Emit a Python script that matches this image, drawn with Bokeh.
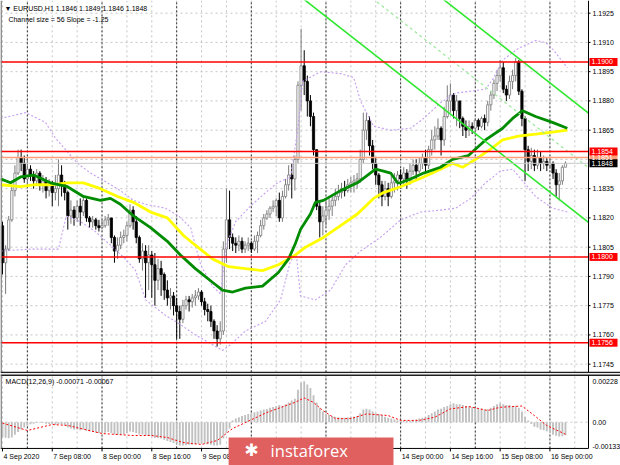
import numpy as np
from bokeh.plotting import figure
from bokeh.layouts import column
from bokeh.models import Range1d, ColumnDataSource
from bokeh.core.properties import value
from bokeh.embed import file_html
from bokeh.resources import INLINE

# ---------------- data (EURUSD H1) ----------------
first_open = 1.1816
close = [1.1797, 1.1804, 1.1819, 1.1834, 1.1843, 1.1851, 1.1848, 1.1840, 1.1845, 1.1842,
         1.1839, 1.1843, 1.1837, 1.1839, 1.1834, 1.1837, 1.1833, 1.1835, 1.1842, 1.1837,
         1.1833, 1.1821, 1.1824, 1.1820, 1.1826, 1.1823, 1.1829, 1.1820, 1.1818, 1.1819,
         1.1816, 1.1815, 1.1816, 1.1819, 1.1820, 1.1810, 1.1803, 1.1806, 1.1810, 1.1811,
         1.1816, 1.1824, 1.1818, 1.1810, 1.1799, 1.1803, 1.1797, 1.1801, 1.1796, 1.1788,
         1.1794, 1.1791, 1.1783, 1.1779, 1.1780, 1.1775, 1.1772, 1.1768, 1.1775, 1.1778,
         1.1777, 1.1779, 1.1780, 1.1782, 1.1777, 1.1773, 1.1772, 1.1767, 1.1762, 1.1758,
         1.1762, 1.1804, 1.1819, 1.1810, 1.1807, 1.1806, 1.1808, 1.1804, 1.1806, 1.1807,
         1.1804, 1.1808, 1.1811, 1.1816, 1.1820, 1.1822, 1.1825, 1.1826, 1.1829, 1.1820,
         1.1831, 1.1837, 1.1842, 1.1840, 1.1850, 1.1888, 1.1898, 1.1890, 1.1880, 1.1872,
         1.1855, 1.1826, 1.1818, 1.1821, 1.1824, 1.1826, 1.1829, 1.1831, 1.1833, 1.1835,
         1.1834, 1.1837, 1.1838, 1.1839, 1.1840, 1.1850, 1.1865, 1.1870, 1.1857, 1.1848,
         1.1842, 1.1837, 1.1831, 1.1835, 1.1831, 1.1838, 1.1839, 1.1842, 1.1840, 1.1843,
         1.1839, 1.1844, 1.1847, 1.1844, 1.1848, 1.1851, 1.1847, 1.1855, 1.1860, 1.1862,
         1.1866, 1.1860, 1.1872, 1.1880, 1.1883, 1.1875, 1.1880, 1.1871, 1.1867, 1.1865,
         1.1867, 1.1866, 1.1870, 1.1867, 1.1871, 1.1869, 1.1878, 1.1883, 1.1889, 1.1893,
         1.1897, 1.1886, 1.1883, 1.1890, 1.1893, 1.1900, 1.1885, 1.1871, 1.1855, 1.1849,
         1.1852, 1.1847, 1.1851, 1.1848, 1.1849, 1.1847, 1.1848, 1.1843, 1.1837, 1.1839,
         1.1846, 1.1848]
high = [1.1818, 1.1806, 1.1821, 1.1837, 1.1847, 1.1855, 1.1855, 1.1852, 1.1850, 1.1847,
        1.1844, 1.1845, 1.1844, 1.1842, 1.1841, 1.1840, 1.1839, 1.1842, 1.1850, 1.1847,
        1.1839, 1.1834, 1.1829, 1.1826, 1.1829, 1.1830, 1.1831, 1.1830, 1.1821, 1.1821,
        1.1820, 1.1819, 1.1819, 1.1821, 1.1822, 1.1820, 1.1811, 1.1810, 1.1813, 1.1814,
        1.1818, 1.1827, 1.1826, 1.1821, 1.1811, 1.1807, 1.1806, 1.1806, 1.1803, 1.1802,
        1.1799, 1.1798, 1.1792, 1.1788, 1.1784, 1.1782, 1.1779, 1.1775, 1.1778, 1.1780,
        1.1780, 1.1781, 1.1783, 1.1784, 1.1783, 1.1779, 1.1776, 1.1775, 1.1768, 1.1765,
        1.1767, 1.1808, 1.1835, 1.1834, 1.1812, 1.1810, 1.1811, 1.1810, 1.1808, 1.1810,
        1.1808, 1.1811, 1.1813, 1.1819, 1.1822, 1.1824, 1.1826, 1.1829, 1.1830, 1.1833,
        1.1834, 1.1840, 1.1847, 1.1848, 1.1852, 1.1890, 1.1917, 1.1906, 1.1893, 1.1883,
        1.1874, 1.1855, 1.1829, 1.1826, 1.1829, 1.1830, 1.1831, 1.1835, 1.1837, 1.1838,
        1.1839, 1.1840, 1.1841, 1.1842, 1.1843, 1.1855, 1.1874, 1.1874, 1.1872, 1.1860,
        1.1851, 1.1843, 1.1839, 1.1839, 1.1838, 1.1842, 1.1843, 1.1844, 1.1845, 1.1846,
        1.1845, 1.1848, 1.1850, 1.1850, 1.1851, 1.1853, 1.1855, 1.1857, 1.1865, 1.1867,
        1.1871, 1.1867, 1.1877, 1.1888, 1.1889, 1.1884, 1.1883, 1.1880, 1.1872, 1.1870,
        1.1870, 1.1869, 1.1871, 1.1871, 1.1872, 1.1873, 1.1880, 1.1885, 1.1891, 1.1896,
        1.1901, 1.1900, 1.1888, 1.1893, 1.1896, 1.1902, 1.1901, 1.1886, 1.1872, 1.1857,
        1.1856, 1.1855, 1.1855, 1.1854, 1.1852, 1.1851, 1.1851, 1.1849, 1.1845, 1.1843,
        1.1847, 1.1849]
low = [1.1791, 1.1781, 1.1803, 1.1818, 1.1831, 1.1842, 1.1844, 1.1838, 1.1836, 1.1839,
       1.1835, 1.1837, 1.1834, 1.1833, 1.1830, 1.1831, 1.1826, 1.1829, 1.1826, 1.1831,
       1.1829, 1.1814, 1.1817, 1.1816, 1.1818, 1.1816, 1.1821, 1.1818, 1.1815, 1.1815,
       1.1814, 1.1813, 1.1814, 1.1815, 1.1816, 1.1807, 1.1797, 1.1799, 1.1804, 1.1807,
       1.1808, 1.1815, 1.1814, 1.1807, 1.1797, 1.1793, 1.1779, 1.1783, 1.1779, 1.1775,
       1.1783, 1.1780, 1.1778, 1.1775, 1.1773, 1.1770, 1.1758, 1.1758, 1.1766, 1.1773,
       1.1772, 1.1774, 1.1775, 1.1778, 1.1775, 1.1770, 1.1767, 1.1764, 1.1758, 1.1754,
       1.1755, 1.1760, 1.1797, 1.1804, 1.1803, 1.1802, 1.1803, 1.1802, 1.1802, 1.1803,
       1.1802, 1.1803, 1.1802, 1.1810, 1.1814, 1.1819, 1.1820, 1.1823, 1.1821, 1.1818,
       1.1818, 1.1830, 1.1834, 1.1830, 1.1834, 1.1848, 1.1875, 1.1883, 1.1872, 1.1867,
       1.1852, 1.1824, 1.1810, 1.1811, 1.1816, 1.1819, 1.1821, 1.1826, 1.1829, 1.1830,
       1.1831, 1.1833, 1.1833, 1.1833, 1.1835, 1.1838, 1.1848, 1.1860, 1.1852, 1.1845,
       1.1837, 1.1830, 1.1826, 1.1829, 1.1826, 1.1830, 1.1833, 1.1834, 1.1835, 1.1837,
       1.1835, 1.1837, 1.1842, 1.1840, 1.1843, 1.1845, 1.1844, 1.1845, 1.1852, 1.1855,
       1.1860, 1.1852, 1.1857, 1.1871, 1.1874, 1.1871, 1.1867, 1.1866, 1.1862, 1.1861,
       1.1862, 1.1863, 1.1864, 1.1865, 1.1866, 1.1865, 1.1867, 1.1875, 1.1881, 1.1885,
       1.1890, 1.1884, 1.1880, 1.1881, 1.1886, 1.1890, 1.1883, 1.1867, 1.1839, 1.1844,
       1.1845, 1.1844, 1.1845, 1.1844, 1.1845, 1.1844, 1.1845, 1.1840, 1.1831, 1.1829,
       1.1837, 1.1846]

# moving averages (green, yellow) read at knots: bar index, price
green_bar = [-0.6, 2.6, 5.8, 10, 15.4, 20.9, 26, 31.5, 34.7, 37.9, 42.1, 47.6, 53, 57.2, 62,
             67.5, 70.7, 74, 78.1, 83.6, 88.7, 92, 94.2, 95.8, 99, 100.6, 103.2, 108.7, 114.1,
             117.4, 119.9, 122.5, 124.8, 127, 128, 131.2, 135.4, 140.8, 144.7, 149.8, 155.3,
             160.8, 164, 167.2, 171.4, 176.8, 181.6]
green_val = [1.1840, 1.1838, 1.1841, 1.1842, 1.1838, 1.1836, 1.1831, 1.1829, 1.1830, 1.1827,
             1.1821, 1.1815, 1.1808, 1.1801, 1.1794, 1.1787, 1.1783, 1.1782, 1.1784, 1.1785,
             1.1792, 1.1799, 1.1807, 1.1814, 1.1822, 1.1828, 1.1829, 1.1834, 1.1838, 1.1842,
             1.1845, 1.1844, 1.1843, 1.1838, 1.1838, 1.1840, 1.1843, 1.1846, 1.1850, 1.1852,
             1.1860, 1.1866, 1.1871, 1.1875, 1.1872, 1.1869, 1.1866]
yellow_bar = [-0.6, 5.8, 10, 15.4, 20.9, 26, 31.5, 37, 42.1, 47.6, 53, 58.2, 62, 67.5, 72.7,
              78.1, 83.6, 88.7, 94.2, 97.4, 103.2, 108.7, 114.1, 119.3, 122.5, 128, 135.4,
              140.8, 144.7, 147.9, 152.1, 157.6, 160.8, 165.9, 171.4, 176.8, 181.6]
yellow_val = [1.1837, 1.1836, 1.1837, 1.1837, 1.1838, 1.1838, 1.1835, 1.1831, 1.1828, 1.1823,
              1.1820, 1.1811, 1.1806, 1.1799, 1.1795, 1.1794, 1.1793, 1.1796, 1.1801, 1.1805,
              1.1810, 1.1816, 1.1822, 1.1830, 1.1833, 1.1836, 1.1841, 1.1845, 1.1848, 1.1846,
              1.1850, 1.1856, 1.1860, 1.1862, 1.1863, 1.1864, 1.1865]
# envelope bands (purple dotted)
upper_bar = [-0.6, 7.4, 13.8, 17, 20.3, 24.1, 28.3, 33.8, 37.9, 42.1, 46, 52.4, 56.6, 60.5,
             63.7, 67.5, 70.1, 72, 74.9, 79.7, 84.6, 88.4, 92.6, 94.9, 96.5, 102.3, 108.7,
             112.9, 115.1, 119.3, 124.8, 131.2, 135.4, 140.8, 145.7, 150.5, 155.3, 157.6,
             160.8, 165.9, 171.4, 174.6, 177.2, 181.6]
upper_val = [1.1871, 1.1874, 1.1869, 1.1861, 1.1855, 1.1848, 1.1843, 1.1838, 1.1834, 1.1829,
             1.1827, 1.1825, 1.1821, 1.1815, 1.1796, 1.1785, 1.1781, 1.1806, 1.1818, 1.1826,
             1.1833, 1.1838, 1.1841, 1.1865, 1.1890, 1.1895, 1.1894, 1.1892, 1.1880, 1.1867,
             1.1865, 1.1866, 1.1871, 1.1879, 1.1884, 1.1885, 1.1886, 1.1891, 1.1901, 1.1907,
             1.1911, 1.1910, 1.1906, 1.1897]
lower_bar = [-0.6, 9, 18, 20.5, 25.1, 29.9, 34.7, 39.5, 42.8, 46, 52.4, 56.6, 62, 67.5, 70.7,
             73.3, 78.1, 84.6, 89.4, 92.6, 94.5, 95.8, 100.6, 105.5, 110.3, 115.1, 121.5, 128,
             134.4, 140.8, 145.7, 150.5, 155.3, 160.1, 164, 167.2, 171.4, 176.8, 181.6]
lower_val = [1.1803, 1.1804, 1.1804, 1.1821, 1.1818, 1.1813, 1.1806, 1.1799, 1.1793, 1.1778,
             1.1770, 1.1766, 1.1760, 1.1755, 1.1752, 1.1755, 1.1762, 1.1767, 1.1778, 1.1798,
             1.1801, 1.1780, 1.1778, 1.1783, 1.1796, 1.1803, 1.1810, 1.1819, 1.1823, 1.1824,
             1.1825, 1.1830, 1.1838, 1.1844, 1.1845, 1.1839, 1.1831, 1.1825, 1.1823]

# MACD(12,26,9) histogram, one value per bar, and signal line knots
macd_hist = [-0.00083, -0.00087, -0.00089, -0.00085, -0.00070, -0.00055, -0.00040, -0.00030,
             -0.00020, -0.00012, -0.00008, -0.00005, -0.00003, -0.00005, -0.00008, -0.00010,
             -0.00012, -0.00015, -0.00010, -0.00012, -0.00018, -0.00030, -0.00035, -0.00040,
             -0.00040, -0.00045, -0.00040, -0.00048, -0.00052, -0.00055, -0.00058, -0.00060,
             -0.00060, -0.00058, -0.00055, -0.00060, -0.00068, -0.00070, -0.00070, -0.00068,
             -0.00062, -0.00052, -0.00055, -0.00060, -0.00068, -0.00068, -0.00075, -0.00075,
             -0.00080, -0.00088, -0.00088, -0.00090, -0.00097, -0.00105, -0.00110, -0.00115,
             -0.00120, -0.00130, -0.00130, -0.00128, -0.00126, -0.00125, -0.00122, -0.00120,
             -0.00120, -0.00120, -0.00122, -0.00125, -0.00130, -0.00130, -0.00125, -0.00090,
             -0.00060, -0.00035, 0.00010, 0.00020, 0.00028, 0.00035, 0.00040, 0.00045, 0.00050,
             0.00055, 0.00060, 0.00065, 0.00070, 0.00074, 0.00080, 0.00085, 0.00090,
             0.00095, 0.00090, 0.00100, 0.00110, 0.00120, 0.00130,
             0.00180, 0.00220, 0.00228, 0.00210, 0.00190, 0.00150,
             0.00110, 0.00080, 0.00060, 0.00045, 0.00040, 0.00035,
             0.00030, 0.00028, 0.00025, 0.00025, 0.00028, 0.00030, 0.00030,
             0.00035, 0.00050, 0.00070, 0.00075, 0.00070, 0.00060, 0.00050, 0.00045,
             0.00040, 0.00030, 0.00025, 0.00020, 0.00015, 0.00010, 0.00010,
             0.00008, 0.00010, 0.00010, 0.00012, 0.00015, 0.00020,
             0.00025, 0.00030, 0.00040, 0.00050, 0.00060, 0.00070,
             0.00075, 0.00085, 0.00090, 0.00100, 0.00105, 0.00100, 0.00100,
             0.00095, 0.00090, 0.00088, 0.00085, 0.00080, 0.00078,
             0.00075, 0.00070, 0.00072, 0.00080, 0.00090, 0.00100,
             0.00105, 0.00100, 0.00095, 0.00095, 0.00090, 0.00092, 0.00080,
             0.00060, 0.00030, 0.00010, -0.00010,
             -0.00025, -0.00030, -0.00040, -0.00045, -0.00050, -0.00060,
             -0.00070, -0.00075, -0.00080, -0.00078, -0.00071]
sig_bar = [0, 8, 16, 21, 32, 42, 48, 53, 58, 64, 69, 74, 85, 94, 97, 100, 103, 107, 112, 117,
           124, 128, 134, 139, 144, 150, 156, 160, 167, 171, 175, 181]
sig_val = [-0.00005, -0.00046, -0.00013, -0.00018, -0.00063, -0.00074, -0.00074, -0.00085,
           -0.00113, -0.00124, -0.00102, -0.00035, 0.00054, 0.00110, 0.00135, 0.00110, 0.00065,
           0.00020, 0.00020, 0.00046, 0.00037, 0.00010, 0.00010, 0.00028, 0.00074, 0.00087,
           0.00065, 0.00083, 0.00090, 0.00037, -0.00019, -0.00067]

# levels and channel
level_prices = [1.1900, 1.1854, 1.1800, 1.1756]
bid_price = 1.1848
alt_price = 1.1851
channel_slope = -0.000125      # per bar (Slope = -1.25 pips)
channel_size = 0.0056          # 56 pips
channel_lower_last = 1.1827    # lower line at last bar
channel_start_bar = 90

price_ticks = [1.1745, 1.1760, 1.1775, 1.1790, 1.1805, 1.1820, 1.1835, 1.1850, 1.1865,
               1.1880, 1.1895, 1.1910, 1.1925]
macd_ticks = [0.00228, 0.0, -0.00133]
macd_tick_labels = ["0.00228", "0.00", "-0.00133"]
tick_bars = [0, 16, 32, 48, 64, 80, 96, 112, 128, 144, 160, 176]
tick_labels = ["4 Sep 2020", "7 Sep 08:00", "8 Sep 00:00", "8 Sep 16:00", "9 Sep 08:00",
               "10 Sep 00:00", "10 Sep 16:00", "11 Sep 08:00", "14 Sep 00:00",
               "14 Sep 16:00", "15 Sep 08:00", "16 Sep 00:00"]
day_sep_bars = [8, 32, 56, 80, 104, 128, 152, 176]

# ---------------- geometry ----------------
FONT = value("Liberation Sans")
W = 620
HP, HM = 373, 92
X0, X1 = -0.64, 188.4           # plot-frame bar range
XE = X0 + (X1 - X0) * 620 / 588  # includes the price-scale strip on the right
PPB = W / (XE - X0)              # screen px per bar
P_TOP, P_BOT = 1.19315, 1.174021 # price canvas range
P_FRAME_BOT = 1.17408
M_TOP, M_BOT = 0.002708, -0.002408
M_FRAME_TOP, M_FRAME_BOT = 0.0026, -0.00146
GRID = "#c4c4c4"
xr = Range1d(X0, XE)

def mkfig(h, yr):
    f = figure(width=W, height=h, x_range=xr, y_range=yr, x_axis_location=None,
               y_axis_location=None, toolbar_location=None, output_backend="svg",
               min_border=0, min_border_left=0, min_border_right=0, min_border_top=0,
               min_border_bottom=0)
    f.outline_line_color = None
    f.background_fill_color = "white"
    f.border_fill_color = "white"
    f.grid.visible = False
    return f

def txt(f, xs, ys, texts, size="7px", color="black", align="left", xoff=0, font=FONT):
    f.text(x=xs, y=ys, text=texts, text_font=font, text_font_size=size,
           text_color=color, text_align=align, text_baseline="middle", x_offset=xoff)

# ---------------- price panel ----------------
p = mkfig(HP, Range1d(P_BOT, P_TOP))
grid_bars = list(range(0, 189, 8))
p.segment(x0=X0, x1=X1, y0=price_ticks, y1=price_ticks, line_color=GRID, line_dash="2 3")
p.segment(x0=grid_bars, x1=grid_bars, y0=P_FRAME_BOT, y1=P_TOP, line_color=GRID,
          line_dash="2 3")
p.segment(x0=day_sep_bars, x1=day_sep_bars, y0=P_FRAME_BOT, y1=P_TOP, line_color="#303030",
          line_dash="2 2")

c = np.array(close)
n = len(c)
o = np.concatenate([[first_open], c[:-1]])
h = np.maximum(np.array(high[:n]), np.maximum(o, c))
l = np.minimum(np.array(low[:n]), np.minimum(o, c))
xb = np.arange(n)
up = c >= o
dn = ~up
src_up = ColumnDataSource(dict(x=xb[up], top=c[up], bottom=o[up], h=h[up], l=l[up]))
src_dn = ColumnDataSource(dict(x=xb[dn], top=o[dn], bottom=c[dn], h=h[dn], l=l[dn]))
p.segment(x0="x", y0="l", x1="x", y1="h", source=src_up, line_color="#7a7a7a", line_width=1)
p.segment(x0="x", y0="l", x1="x", y1="h", source=src_dn, line_color="black", line_width=1)
p.vbar(x="x", width=0.72, top="top", bottom="bottom", source=src_up,
       fill_color="white", line_color="#7a7a7a", line_width=0.8)
p.vbar(x="x", width=0.72, top="top", bottom="bottom", source=src_dn,
       fill_color="black", line_color="black", line_width=0.8)

BAND = "#c49ef0"
p.line(upper_bar, upper_val, line_color=BAND, line_dash="2 2", line_width=1.1)
p.line(lower_bar, lower_val, line_color=BAND, line_dash="2 2", line_width=1.1)
p.line(yellow_bar, yellow_val, line_color="#ffff00", line_width=2.8)
p.line(green_bar, green_val, line_color="#008c00", line_width=2.8)

xc = np.array([channel_start_bar, X1])
lower_c = channel_lower_last + channel_slope * (xc - (n - 1))
upper_c = lower_c + channel_size
mid_c = lower_c + channel_size / 2
p.line(xc, mid_c, line_color="#9be89b", line_dash="3 3", line_width=1.2)
p.line(xc, lower_c, line_color="#2ee82e", line_width=1.6)
p.line(xc, upper_c, line_color="#2ee82e", line_width=1.6)

p.segment(x0=X0, x1=X1, y0=bid_price, y1=bid_price, line_color="#c8c8c8", line_width=1)
p.segment(x0=X0, x1=X1, y0=alt_price, y1=alt_price, line_color="#ffa07a", line_width=1.5)
p.segment(x0=X0, x1=X1, y0=level_prices, y1=level_prices, line_color="#ff0000",
          line_width=1.5)

# frame borders
p.segment(x0=X1, x1=X1, y0=P_FRAME_BOT, y1=P_TOP, line_color="black", line_width=1)
p.segment(x0=X0 + 0.2, x1=X0 + 0.2, y0=P_FRAME_BOT, y1=P_TOP, line_color="#808080",
          line_width=1.5)
p.segment(x0=X0, x1=XE, y0=P_FRAME_BOT, y1=P_FRAME_BOT, line_color="#202020", line_width=1.2)

# price scale
p.segment(x0=X1, x1=X1 + 2 / PPB, y0=price_ticks, y1=price_ticks, line_color="black")
txt(p, [X1] * len(price_ticks), price_ticks, ["%.4f" % t for t in price_ticks], xoff=4)

tag_prices = [alt_price, bid_price] + level_prices
tag_colors = ["#ffa07a", "black"] + ["#ff0000"] * len(level_prices)
tag_x = X1 + 15 / PPB
p.rect(x=[tag_x] * len(tag_prices), y=tag_prices, width=28, height=8,
       width_units="screen", height_units="screen", fill_color=tag_colors, line_color=None)
txt(p, [X1] * len(tag_prices), tag_prices, ["%.4f" % t for t in tag_prices],
    color="white", xoff=3)

txt(p, [0.64], [1.19274], ["\u25bc EURUSD,H1  1.1846 1.1849 1.1846 1.1848"])
txt(p, [1.9], [1.19218], ["Channel size = 56 Slope = -1.25"])

# ---------------- MACD panel ----------------
m = mkfig(HM, Range1d(M_BOT, M_TOP))
m.quad(left=X0, right=XE, bottom=M_FRAME_TOP, top=M_TOP, fill_color="#b4b4b4", line_color=None)
m.segment(x0=X0, x1=X1, y0=0, y1=0, line_color=GRID, line_dash="2 3")
m.segment(x0=grid_bars, x1=grid_bars, y0=M_FRAME_BOT, y1=M_FRAME_TOP, line_color=GRID,
          line_dash="2 3")
m.segment(x0=day_sep_bars, x1=day_sep_bars, y0=M_FRAME_BOT, y1=M_FRAME_TOP,
          line_color="#303030", line_dash="2 2")

m.vbar(x=list(range(len(macd_hist))), top=macd_hist, bottom=0, width=0.6,
       fill_color="#c0c0c0", line_color=None)
m.line(sig_bar, sig_val, line_color="#ff0000", line_dash="2 2", line_width=1)

m.segment(x0=X0, x1=XE, y0=M_FRAME_TOP, y1=M_FRAME_TOP, line_color="#202020", line_width=1.2)
m.segment(x0=X0, x1=X1, y0=M_FRAME_BOT, y1=M_FRAME_BOT, line_color="black", line_width=1)
m.segment(x0=X1, x1=X1, y0=M_FRAME_BOT, y1=M_FRAME_TOP, line_color="black", line_width=1)
m.segment(x0=X0 + 0.2, x1=X0 + 0.2, y0=M_FRAME_BOT, y1=M_FRAME_TOP, line_color="#808080",
          line_width=1.5)

# value scale
txt(m, [X1] * len(macd_ticks), macd_ticks, macd_tick_labels, xoff=4)
txt(m, [1.0], [0.00224], ["MACD(12,26,9) -0.00071 -0.00067"])

# time scale
tick_len = (M_TOP - M_BOT) / HM * 3
m.segment(x0=tick_bars, x1=tick_bars, y0=M_FRAME_BOT, y1=M_FRAME_BOT - tick_len,
          line_color="black")
txt(m, tick_bars, [-0.00188] * len(tick_bars), tick_labels, xoff=1)

# watermark
m.quad(left=72.7, right=125.7, bottom=M_BOT - 0.001, top=-0.00085, fill_color="#e0605f",
       line_color=None)
txt(m, [86.2], [-0.00157], ["instaforex"], size="16.5px", color="white",
    font=value("Open Sans"))
txt(m, [80.0], [-0.00157], ["\u2731"], size="17px", color="white", align="center",
    font=value("DejaVu Sans"))

layout = column(p, m)
open("out.html", "w").write(file_html(layout, INLINE))
